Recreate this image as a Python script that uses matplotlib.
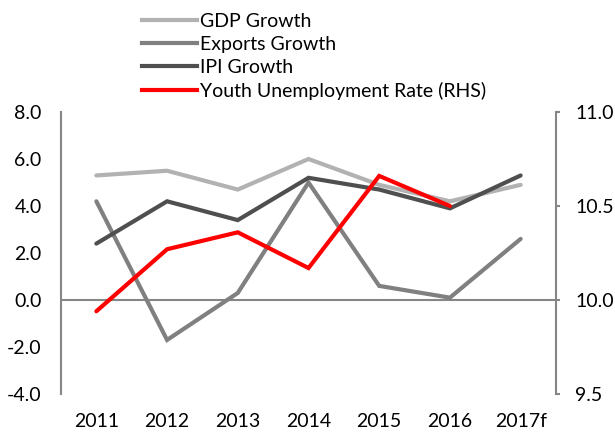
import matplotlib
matplotlib.use("Agg")
import matplotlib.pyplot as plt
from matplotlib.lines import Line2D

years = ["2011", "2012", "2013", "2014", "2015", "2016", "2017f"]
gdp_growth = [5.3, 5.5, 4.7, 6.0, 4.9, 4.2, 4.9]
exports_growth = [4.2, -1.7, 0.3, 5.0, 0.6, 0.1, 2.6]
ipi_growth = [2.4, 4.2, 3.4, 5.2, 4.7, 3.9, 5.3]
youth_unemp = [9.94, 10.27, 10.36, 10.17, 10.66, 10.50]

plt.rcParams['font.family'] = ['Lato', 'DejaVu Sans']
W, H = 615, 432
fig = plt.figure(figsize=(W/100, H/100), dpi=100)
ax = fig.add_axes([61/W, 1-394/H, (556-61)/W, (394-112)/H])
ax2 = ax.twinx()

x = list(range(len(years)))
lw = 3.0
c_gdp, c_exp, c_ipi, c_red = "#b2b2b2", "#808080", "#4f4f4f", "#ff0000"
ax.plot(x, gdp_growth, color=c_gdp, lw=lw, solid_capstyle='round', solid_joinstyle='miter')
ax.plot(x, exports_growth, color=c_exp, lw=lw, solid_capstyle='round', solid_joinstyle='miter')
ax.plot(x, ipi_growth, color=c_ipi, lw=lw, solid_capstyle='round', solid_joinstyle='miter')
ax2.plot(x[:len(youth_unemp)], youth_unemp, color=c_red, lw=lw, solid_capstyle='round', solid_joinstyle='miter')

ax.set_xlim(-0.5, len(years)-0.5)
ax.set_ylim(-4, 8)
ax2.set_ylim(9.5, 11.0)
lticks = [-4, -2, 0, 2, 4, 6, 8]
rticks = [9.5, 10.0, 10.5, 11.0]
ax.set_yticks(lticks)
ax.set_yticklabels([f"{v:.1f}" for v in lticks])
ax2.set_yticks(rticks)
ax2.set_yticklabels([f"{v:.1f}" for v in rticks])
ax.set_xticks(x)
ax.set_xticklabels(years)

spine_c = "#868686"
for a in (ax, ax2):
    for s in a.spines.values():
        s.set_visible(False)
ax.spines['left'].set_visible(True)
ax.spines['left'].set_color(spine_c)
ax.spines['left'].set_linewidth(1.5)
ax2.spines['right'].set_visible(True)
ax2.spines['right'].set_color(spine_c)
ax2.spines['right'].set_linewidth(1.5)
ax.axhline(0, color=spine_c, lw=1.5, zorder=0)

fs = 14
ax.tick_params(axis='y', length=0, labelsize=fs, pad=14, colors='black')
ax.tick_params(axis='x', length=0, labelsize=fs, pad=13.5, colors='black')
ax2.tick_params(axis='y', length=3, width=1.5, color=spine_c, labelsize=fs, pad=11, labelcolor='black')

handles = [Line2D([], [], color=c, lw=lw) for c in (c_gdp, c_exp, c_ipi, c_red)]
labels = ["GDP Growth", "Exports Growth", "IPI Growth", "Youth Unemployment Rate (RHS)"]
fig.legend(handles, labels, loc='upper left', bbox_to_anchor=(142/W, 1-13/H),
           frameon=False, fontsize=fs, handlelength=2.83, handletextpad=0.15,
           labelspacing=0.31, borderaxespad=0, borderpad=0)

fig.savefig("out.png", dpi=100)
